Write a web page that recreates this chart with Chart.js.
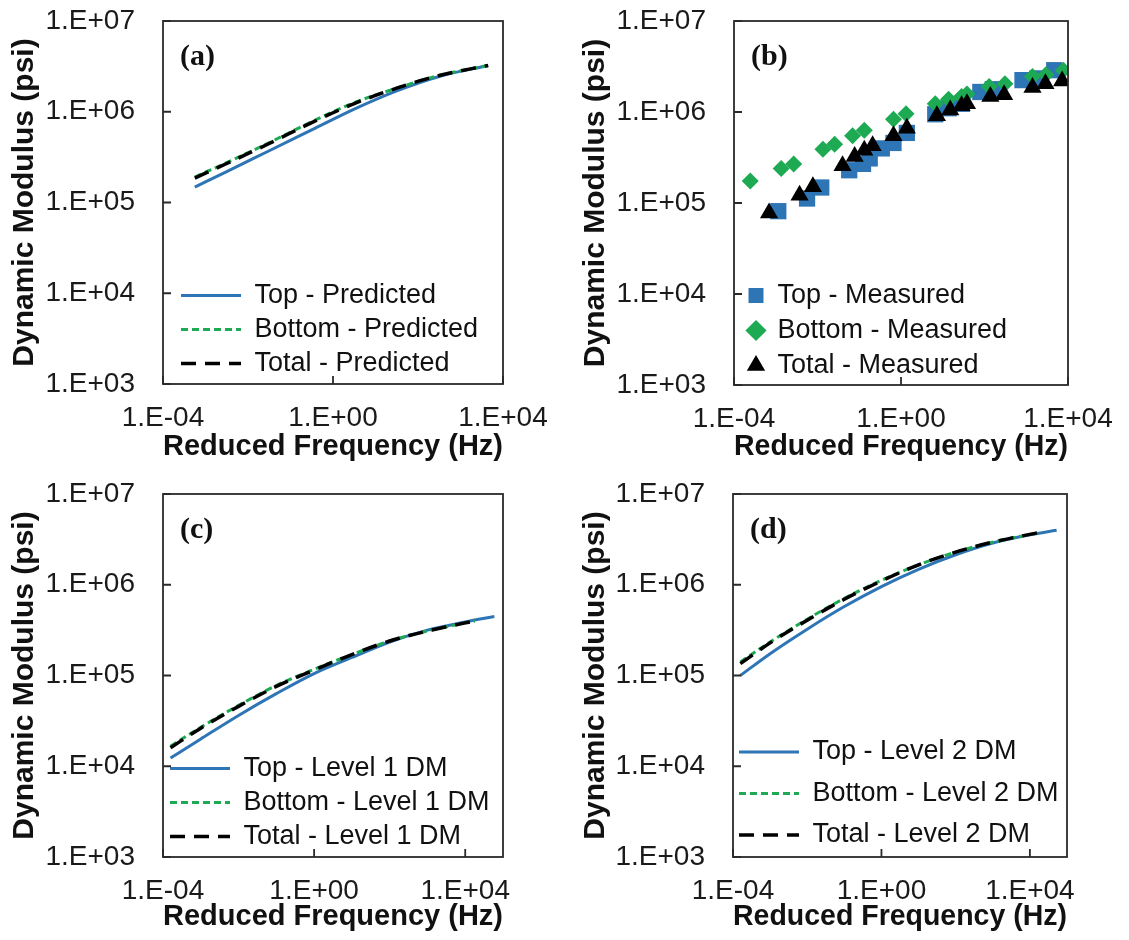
<!DOCTYPE html>
<html>
<head>
<meta charset="utf-8">
<script src="https://cdn.jsdelivr.net/npm/chart.js@4"></script>
<style>
  body { margin: 0; background: #fff; }
  #wrap { position: relative; width: 1129px; height: 940px; background: #fff; }
  canvas { position: absolute; }
</style>
</head>
<body>
<div id="wrap">
  <canvas id="chartA" width="571" height="470" style="left:0;top:0"></canvas>
  <canvas id="chartB" width="558" height="470" style="left:571px;top:0"></canvas>
  <canvas id="chartC" width="571" height="470" style="left:0;top:470px"></canvas>
  <canvas id="chartD" width="558" height="470" style="left:571px;top:470px"></canvas>
</div>
<script>
// tick values and labels (shared by all four panels)
const xTickValues = [1e-4, 1, 1e4];
const xTickLabels = ['1.E-04', '1.E+00', '1.E+04'];
const yTickValues = [1e3, 1e4, 1e5, 1e6, 1e7];
const yTickLabels = ['1.E+03', '1.E+04', '1.E+05', '1.E+06', '1.E+07'];

// (a) predicted
const freqPredicted = [5.6e-4, 3.16e-3, 3.16e-2, 0.316, 3.16, 31.6, 316, 4470];
const topPredicted = [1.48e5, 2.19e5, 3.72e5, 6.31e5, 1.07e6, 1.70e6, 2.45e6, 3.24e6];
const bottomPredicted = [1.91e5, 2.75e5, 4.57e5, 7.76e5, 1.26e6, 1.82e6, 2.51e6, 3.24e6];
const totalPredicted = [1.86e5, 2.69e5, 4.47e5, 7.59e5, 1.23e6, 1.82e6, 2.51e6, 3.24e6];

// (b) measured
const freqTopMeasured = [1.15e-3, 5.62e-3, 1.23e-2, 5.75e-2, 0.123, 0.178, 0.347, 0.661, 1.38, 6.61, 13.8, 28.8, 79.4, 158, 813, 1860, 4680];
const topMeasured = [8.13e4, 1.12e5, 1.48e5, 2.29e5, 2.69e5, 3.09e5, 3.98e5, 4.57e5, 5.89e5, 9.44e5, 1.10e6, 1.23e6, 1.66e6, 1.78e6, 2.24e6, 2.34e6, 2.88e6];
const freqBottomMeasured = [2.45e-4, 1.35e-3, 2.69e-3, 1.35e-2, 2.57e-2, 6.92e-2, 0.132, 0.661, 1.32, 6.61, 13.8, 28.2, 38.0, 129, 309, 1410, 2950, 7760];
const bottomMeasured = [1.74e5, 2.40e5, 2.69e5, 3.89e5, 4.42e5, 5.50e5, 6.31e5, 8.32e5, 9.55e5, 1.23e6, 1.38e6, 1.48e6, 1.58e6, 1.91e6, 2.04e6, 2.45e6, 2.57e6, 2.88e6];
const freqTotalMeasured = [6.92e-4, 3.72e-3, 7.76e-3, 3.98e-2, 7.76e-2, 0.132, 0.209, 0.661, 1.38, 7.24, 15.1, 28.2, 38.0, 138, 295, 1410, 2880, 7240];
const totalMeasured = [7.76e4, 1.22e5, 1.51e5, 2.57e5, 3.24e5, 3.80e5, 4.27e5, 5.50e5, 6.61e5, 9.12e5, 1.05e6, 1.17e6, 1.23e6, 1.48e6, 1.55e6, 1.86e6, 2.04e6, 2.19e6];

// (c) level 1
const freqLevel1Top = [1.58e-4, 1e-3, 1e-2, 0.1, 1, 10, 100, 1000, 1e4, 5.9e4];
const freqLevel1 = [1.58e-4, 1e-3, 1e-2, 0.1, 1, 10, 100, 1000, 1e4, 1.8e4];
const topLevel1 = [1.23e4, 2.0e4, 3.63e4, 6.31e4, 1.05e5, 1.58e5, 2.34e5, 3.16e5, 3.89e5, 4.47e5];
const bottomLevel1 = [1.66e4, 2.69e4, 4.68e4, 7.76e4, 1.17e5, 1.70e5, 2.40e5, 3.09e5, 3.80e5, 3.98e5];
const totalLevel1 = [1.60e4, 2.63e4, 4.57e4, 7.59e4, 1.15e5, 1.70e5, 2.40e5, 3.09e5, 3.80e5, 3.98e5];

// (d) level 2
const freqLevel2Top = [1.58e-4, 1e-3, 1e-2, 0.1, 1, 10, 100, 1000, 1e4, 5.25e4];
const freqLevel2 = [1.58e-4, 1e-3, 1e-2, 0.1, 1, 10, 100, 1000, 1e4, 1.78e4];
const topLevel2 = [1.0e5, 1.74e5, 3.24e5, 5.75e5, 9.55e5, 1.48e6, 2.14e6, 2.88e6, 3.55e6, 3.98e6];
const bottomLevel2 = [1.41e5, 2.34e5, 4.17e5, 7.08e5, 1.12e6, 1.66e6, 2.29e6, 2.95e6, 3.59e6, 3.76e6];
const totalLevel2 = [1.35e5, 2.29e5, 4.07e5, 6.92e5, 1.10e6, 1.66e6, 2.29e6, 2.95e6, 3.59e6, 3.76e6];

const BLUE = '#2e75b6';
const GREEN = '#1daa52';
const BLACK = '#000000';

Chart.defaults.font.family = '"Liberation Sans", Arial, sans-serif';
Chart.defaults.color = '#1a1a1a';

function pts(xs, ys) {
  return xs.map((x, i) => ({ x: x, y: ys[i] }));
}

function lineSet(label, xs, ys, color, width, dash, order) {
  return {
    label: label, data: pts(xs, ys), showLine: true, borderColor: color,
    backgroundColor: color, borderWidth: width, borderDash: dash,
    pointRadius: 0, cubicInterpolationMode: 'monotone', order: order
  };
}

function markerSet(label, xs, ys, color, style, radius, order) {
  return {
    label: label, data: pts(xs, ys), showLine: false, pointStyle: style,
    pointRadius: radius, pointBackgroundColor: color, pointBorderWidth: 0,
    backgroundColor: color, borderColor: color, borderWidth: 0, order: order
  };
}

// legend samples for the line panels: take dash and width from the line itself
function lineLegendLabels(chart) {
  const items = Chart.defaults.plugins.legend.labels.generateLabels(chart);
  items.forEach(it => {
    const ds = chart.data.datasets[it.datasetIndex];
    it.lineDash = ds.borderDash;
    it.lineWidth = ds.borderWidth;
    it.strokeStyle = ds.borderColor;
  });
  return items;
}

// box, inner tick marks, panel letter, legend placement
const framePlugin = {
  id: 'frame',
  afterLayout(chart, args, opts) {
    const lg = chart.legend;
    if (!lg) return;
    const shiftY = chart.chartArea.top + opts.dy;
    lg.left += opts.dx; lg.right += opts.dx;
    lg.top += shiftY; lg.bottom += shiftY;
  },
  afterDatasetsDraw(chart, args, opts) {
    const { ctx, chartArea: a, scales } = chart;
    ctx.save();
    ctx.strokeStyle = '#2a2a2a';
    ctx.lineWidth = 1.8;
    ctx.strokeRect(a.left, a.top, a.right - a.left, a.bottom - a.top);
    ctx.beginPath();
    yTickValues.forEach(v => {
      const py = scales.y.getPixelForValue(v);
      ctx.moveTo(a.left, py); ctx.lineTo(a.left + 8, py);
    });
    xTickValues.forEach(v => {
      const px = scales.x.getPixelForValue(v);
      ctx.moveTo(px, a.bottom); ctx.lineTo(px, a.bottom - 8);
    });
    ctx.stroke();
    ctx.font = 'bold 30px "Liberation Serif", "Times New Roman", serif';
    ctx.fillStyle = '#111';
    ctx.textBaseline = 'middle';
    ctx.fillText(opts.letter, a.left + 17, a.top + 36);
    ctx.restore();
  }
};

function makePanel(id, datasets, p) {
  const legendLabels = p.markers
    ? { usePointStyle: true, boxWidth: 16, boxHeight: 15 }
    : { usePointStyle: true, pointStyle: 'line', pointStyleWidth: 60, generateLabels: lineLegendLabels };
  legendLabels.font = { size: 27 };
  legendLabels.padding = p.pad;
  legendLabels.color = '#111';
  legendLabels.sort = (a, b) => a.datasetIndex - b.datasetIndex;

  new Chart(document.getElementById(id), {
    type: 'scatter',
    data: { datasets: datasets },
    options: {
      responsive: false,
      animation: false,
      devicePixelRatio: 1,
      layout: { padding: { top: p.top, right: p.right, bottom: 0, left: 0 } },
      scales: {
        x: {
          type: 'logarithmic', min: 1e-4, max: p.xMax,
          afterFit: s => { s.height = p.xHeight; s.paddingLeft = 0; s.paddingRight = 0; },
          afterBuildTicks: s => { s.ticks = xTickValues.map(v => ({ value: v })); },
          ticks: {
            autoSkip: false, maxRotation: 0, padding: 17,
            font: { size: 28 }, color: '#1a1a1a',
            callback: (v, i) => xTickLabels[i]
          },
          grid: { display: false, drawTicks: false },
          border: { display: false },
          title: {
            display: true, text: 'Reduced Frequency (Hz)', color: '#111',
            font: { size: 30, weight: 'bold' }, padding: { top: 0, bottom: 5 }
          }
        },
        y: {
          type: 'logarithmic', min: 1e3, max: 1e7,
          afterFit: s => { s.width = p.yWidth; s.paddingTop = 0; s.paddingBottom = 0; },
          afterBuildTicks: s => { s.ticks = yTickValues.map(v => ({ value: v })); },
          ticks: {
            autoSkip: false, padding: 28,
            font: { size: 28 }, color: '#1a1a1a',
            callback: (v, i) => yTickLabels[i]
          },
          grid: { display: false, drawTicks: false },
          border: { display: false },
          title: {
            display: true, text: 'Dynamic Modulus (psi)', color: '#111',
            font: { size: 30, weight: 'bold' }, padding: { top: 7, bottom: 0 }
          }
        }
      },
      plugins: {
        legend: { position: 'chartArea', align: 'end', labels: legendLabels },
        tooltip: { enabled: false },
        frame: { letter: p.letter, dx: p.dx, dy: p.dy }
      }
    },
    plugins: [framePlugin]
  });
}

makePanel('chartA', [
  lineSet('Top - Predicted', freqPredicted, topPredicted, BLUE, 3, [], 2),
  lineSet('Bottom - Predicted', freqPredicted, bottomPredicted, GREEN, 3, [7, 4], 1),
  lineSet('Total - Predicted', freqPredicted, totalPredicted, BLACK, 3.5, [15, 9], 0)
], { letter: '(a)', xMax: 1e4, top: 21, right: 68, xHeight: 86, yWidth: 163, pad: 7, dx: 11, dy: 0 });

makePanel('chartB', [
  markerSet('Top - Measured', freqTopMeasured, topMeasured, BLUE, 'rect', 11.5, 2),
  markerSet('Bottom - Measured', freqBottomMeasured, bottomMeasured, GREEN, 'rectRot', 8.5, 1),
  markerSet('Total - Measured', freqTotalMeasured, totalMeasured, BLACK, 'triangle', 10.5, 0)
], { letter: '(b)', xMax: 1e4, top: 21, right: 61, xHeight: 85, yWidth: 163, pad: 8, dx: 6, dy: 2, markers: true });

makePanel('chartC', [
  lineSet('Top - Level 1 DM', freqLevel1Top, topLevel1, BLUE, 3, [], 2),
  lineSet('Bottom - Level 1 DM', freqLevel1, bottomLevel1, GREEN, 3, [7, 4], 1),
  lineSet('Total - Level 1 DM', freqLevel1, totalLevel1, BLACK, 3.5, [15, 9], 0)
], { letter: '(c)', xMax: 1e5, top: 24, right: 68, xHeight: 83, yWidth: 163, pad: 7, dx: 0, dy: 0 });

makePanel('chartD', [
  lineSet('Top - Level 2 DM', freqLevel2Top, topLevel2, BLUE, 3, [], 2),
  lineSet('Bottom - Level 2 DM', freqLevel2, bottomLevel2, GREEN, 3, [7, 4], 1),
  lineSet('Total - Level 2 DM', freqLevel2, totalLevel2, BLACK, 3.5, [15, 9], 0)
], { letter: '(d)', xMax: 1e5, top: 24, right: 62, xHeight: 83, yWidth: 162, pad: 14.5, dx: -8.5, dy: 6 });
</script>
</body>
</html>
